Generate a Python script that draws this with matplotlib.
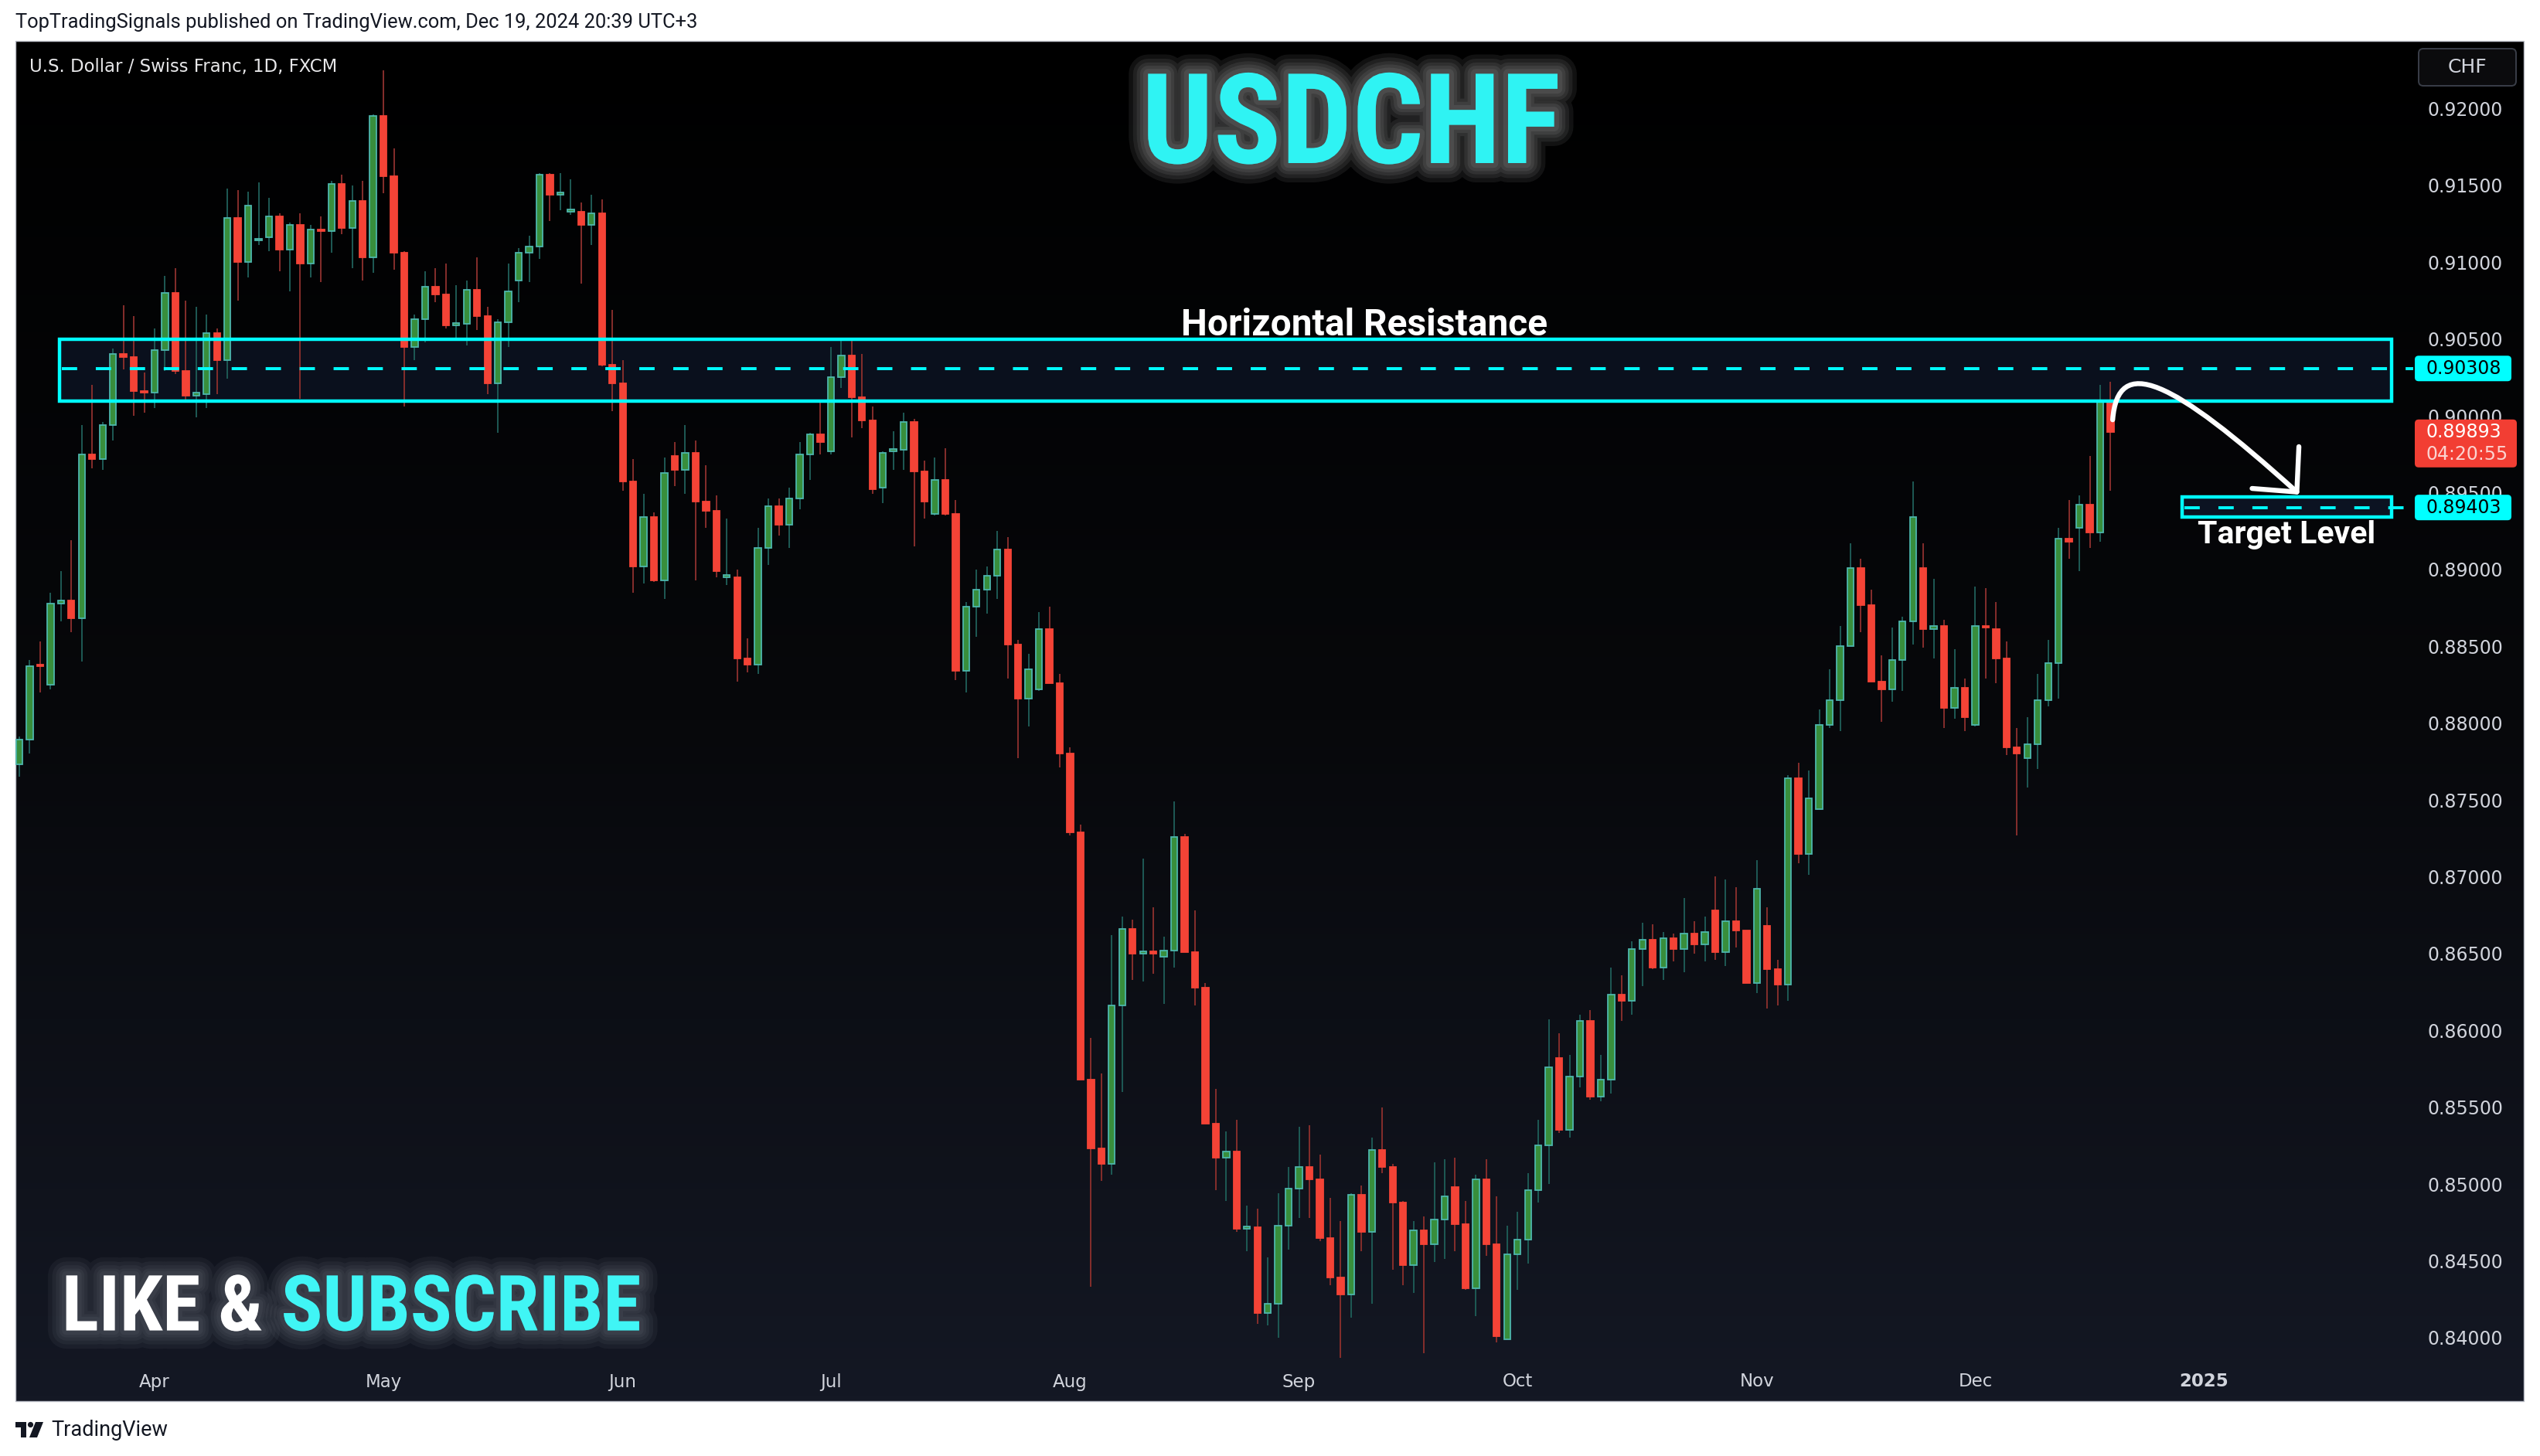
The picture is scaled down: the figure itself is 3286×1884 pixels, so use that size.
import numpy as np
import pandas as pd
import matplotlib
matplotlib.use('Agg')
import matplotlib.pyplot as plt
import matplotlib.patheffects as pe
from matplotlib import font_manager as fm
from matplotlib.colors import LinearSegmentedColormap
from matplotlib.patches import Rectangle, FancyBboxPatch, PathPatch, Polygon, Circle
from matplotlib.path import Path

W, H, DPI = 3286, 1884, 100

# ---------------------------------------------------------------------------
# data (USDCHF daily, FXCM)
# ---------------------------------------------------------------------------
dates = pd.bdate_range('2024-03-13', '2024-12-19')

opens = [0.8773, 0.8789, 0.8838, 0.8825, 0.8878, 0.8880, 0.8868, 0.8975, 0.8972, 0.8994,
         0.9040, 0.9038, 0.9016, 0.9015, 0.9043, 0.9080, 0.9029, 0.9013, 0.9014, 0.9054,
         0.9036, 0.9129, 0.9100, 0.9114, 0.9116, 0.9130, 0.9108, 0.9124, 0.9099, 0.9121,
         0.9120, 0.9151, 0.9122, 0.9140, 0.9103, 0.9195, 0.9156, 0.9106, 0.9045, 0.9063,
         0.9084, 0.9079, 0.9059, 0.9060, 0.9082, 0.9065, 0.9021, 0.9061, 0.9088, 0.9106,
         0.9110, 0.9157, 0.9144, 0.9133, 0.9133, 0.9124, 0.9132, 0.9033, 0.9021, 0.8957,
         0.8902, 0.8934, 0.8893, 0.8974, 0.8965, 0.8976, 0.8944, 0.8938, 0.8895, 0.8895,
         0.8842, 0.8838, 0.8914, 0.8941, 0.8929, 0.8946, 0.8975, 0.8988, 0.8977, 0.9025,
         0.9039, 0.9012, 0.8997, 0.8953, 0.8977, 0.8978, 0.8996, 0.8964, 0.8936, 0.8958,
         0.8936, 0.8834, 0.8876, 0.8887, 0.8896, 0.8913, 0.8851, 0.8816, 0.8822, 0.8861,
         0.8826, 0.8780, 0.8729, 0.8568, 0.8523, 0.8513, 0.8616, 0.8666, 0.8650, 0.8651,
         0.8648, 0.8652, 0.8726, 0.8651, 0.8628, 0.8539, 0.8517, 0.8521, 0.8471, 0.8472,
         0.8416, 0.8422, 0.8473, 0.8497, 0.8511, 0.8503, 0.8465, 0.8439, 0.8428, 0.8493,
         0.8469, 0.8522, 0.8511, 0.8488, 0.8447, 0.8470, 0.8461, 0.8477, 0.8498, 0.8474,
         0.8432, 0.8503, 0.8461, 0.8399, 0.8454, 0.8464, 0.8496, 0.8525, 0.8582, 0.8535,
         0.8570, 0.8606, 0.8557, 0.8568, 0.8623, 0.8619, 0.8653, 0.8659, 0.8641, 0.8660,
         0.8653, 0.8663, 0.8656, 0.8678, 0.8651, 0.8671, 0.8665, 0.8631, 0.8668, 0.8640,
         0.8630, 0.8764, 0.8715, 0.8744, 0.8799, 0.8815, 0.8850, 0.8901, 0.8877, 0.8827,
         0.8822, 0.8841, 0.8866, 0.8901, 0.8861, 0.8863, 0.8810, 0.8823, 0.8799, 0.8863,
         0.8861, 0.8842, 0.8784, 0.8777, 0.8786, 0.8815, 0.8839, 0.8920, 0.8927, 0.8942,
         0.8924, 0.9010]
highs = [0.8791, 0.8841, 0.8853, 0.8885, 0.8899, 0.8919, 0.8994, 0.9020, 0.8996, 0.9044,
         0.9072, 0.9065, 0.9028, 0.9057, 0.9091, 0.9096, 0.9075, 0.9071, 0.9066, 0.9057,
         0.9148, 0.9147, 0.9146, 0.9152, 0.9142, 0.9132, 0.9126, 0.9132, 0.9124, 0.9130,
         0.9153, 0.9157, 0.9150, 0.9153, 0.9196, 0.9225, 0.9174, 0.9107, 0.9066, 0.9094,
         0.9096, 0.9099, 0.9085, 0.9088, 0.9103, 0.9071, 0.9063, 0.9099, 0.9109, 0.9117,
         0.9158, 0.9158, 0.9158, 0.9154, 0.9139, 0.9144, 0.9141, 0.9069, 0.9036, 0.8972,
         0.8949, 0.8937, 0.8973, 0.8983, 0.8994, 0.8984, 0.8968, 0.8948, 0.8933, 0.8900,
         0.8855, 0.8927, 0.8946, 0.8946, 0.8953, 0.8983, 0.8989, 0.9010, 0.9045, 0.9050,
         0.9051, 0.9040, 0.9006, 0.8977, 0.8990, 0.9002, 0.8998, 0.8971, 0.8973, 0.8979,
         0.8945, 0.8879, 0.8900, 0.8902, 0.8925, 0.8921, 0.8854, 0.8845, 0.8872, 0.8876,
         0.8832, 0.8784, 0.8734, 0.8595, 0.8572, 0.8662, 0.8674, 0.8672, 0.8712, 0.8680,
         0.8661, 0.8749, 0.8728, 0.8678, 0.8631, 0.8562, 0.8534, 0.8542, 0.8486, 0.8484,
         0.8452, 0.8494, 0.8511, 0.8537, 0.8538, 0.8519, 0.8491, 0.8476, 0.8494, 0.8499,
         0.8530, 0.8550, 0.8513, 0.8489, 0.8476, 0.8479, 0.8514, 0.8516, 0.8517, 0.8489,
         0.8506, 0.8516, 0.8492, 0.8473, 0.8482, 0.8507, 0.8542, 0.8607, 0.8598, 0.8584,
         0.8610, 0.8613, 0.8584, 0.8641, 0.8636, 0.8658, 0.8670, 0.8669, 0.8664, 0.8663,
         0.8686, 0.8671, 0.8674, 0.8700, 0.8698, 0.8693, 0.8665, 0.8711, 0.8680, 0.8646,
         0.8766, 0.8774, 0.8769, 0.8809, 0.8835, 0.8863, 0.8917, 0.8907, 0.8887, 0.8844,
         0.8862, 0.8869, 0.8957, 0.8917, 0.8894, 0.8867, 0.8848, 0.8829, 0.8889, 0.8888,
         0.8879, 0.8853, 0.8797, 0.8804, 0.8832, 0.8854, 0.8927, 0.8945, 0.8948, 0.8974,
         0.9020, 0.9022]
lows = [0.8765, 0.8780, 0.8820, 0.8822, 0.8866, 0.8859, 0.8840, 0.8966, 0.8965, 0.8984,
        0.9030, 0.9000, 0.9002, 0.9005, 0.9029, 0.9027, 0.9009, 0.8999, 0.9005, 0.9014,
        0.9024, 0.9075, 0.9090, 0.9111, 0.9107, 0.9094, 0.9081, 0.9011, 0.9090, 0.9087,
        0.9106, 0.9118, 0.9096, 0.9088, 0.9093, 0.9145, 0.9095, 0.9006, 0.9036, 0.9048,
        0.9074, 0.9057, 0.9051, 0.9046, 0.9056, 0.9014, 0.8989, 0.9045, 0.9074, 0.9087,
        0.9102, 0.9127, 0.9134, 0.9131, 0.9086, 0.9111, 0.9032, 0.9003, 0.8951, 0.8885,
        0.8891, 0.8892, 0.8881, 0.8954, 0.8949, 0.8893, 0.8927, 0.8895, 0.8890, 0.8827,
        0.8833, 0.8832, 0.8903, 0.8922, 0.8914, 0.8939, 0.8958, 0.8975, 0.8975, 0.9018,
        0.8986, 0.8992, 0.8949, 0.8943, 0.8965, 0.8965, 0.8915, 0.8933, 0.8935, 0.8935,
        0.8828, 0.8820, 0.8856, 0.8871, 0.8881, 0.8829, 0.8777, 0.8798, 0.8821, 0.8826,
        0.8771, 0.8727, 0.8568, 0.8433, 0.8502, 0.8506, 0.8560, 0.8633, 0.8632, 0.8637,
        0.8617, 0.8641, 0.8651, 0.8616, 0.8539, 0.8496, 0.8489, 0.8469, 0.8456, 0.8409,
        0.8408, 0.8400, 0.8457, 0.8478, 0.8478, 0.8463, 0.8434, 0.8387, 0.8413, 0.8456,
        0.8422, 0.8507, 0.8444, 0.8434, 0.8429, 0.8390, 0.8449, 0.8451, 0.8456, 0.8431,
        0.8414, 0.8453, 0.8397, 0.8399, 0.8431, 0.8448, 0.8488, 0.8500, 0.8533, 0.8530,
        0.8563, 0.8555, 0.8554, 0.8559, 0.8606, 0.8610, 0.8629, 0.8640, 0.8633, 0.8645,
        0.8638, 0.8650, 0.8645, 0.8646, 0.8642, 0.8654, 0.8631, 0.8624, 0.8614, 0.8616,
        0.8619, 0.8709, 0.8701, 0.8744, 0.8797, 0.8795, 0.8850, 0.8859, 0.8827, 0.8801,
        0.8814, 0.8821, 0.8851, 0.8849, 0.8842, 0.8797, 0.8803, 0.8795, 0.8798, 0.8829,
        0.8826, 0.8779, 0.8727, 0.8758, 0.8770, 0.8811, 0.8816, 0.8907, 0.8899, 0.8914,
        0.8918, 0.8951]
closes = [0.8789, 0.8837, 0.8837, 0.8878, 0.8880, 0.8868, 0.8975, 0.8972, 0.8994, 0.9040,
          0.9038, 0.9016, 0.9015, 0.9043, 0.9080, 0.9029, 0.9013, 0.9015, 0.9054, 0.9036,
          0.9129, 0.9100, 0.9137, 0.9115, 0.9130, 0.9108, 0.9124, 0.9099, 0.9121, 0.9120,
          0.9151, 0.9122, 0.9140, 0.9103, 0.9195, 0.9156, 0.9106, 0.9045, 0.9063, 0.9084,
          0.9079, 0.9059, 0.9060, 0.9082, 0.9065, 0.9021, 0.9061, 0.9081, 0.9106, 0.9110,
          0.9157, 0.9144, 0.9145, 0.9134, 0.9124, 0.9132, 0.9033, 0.9021, 0.8957, 0.8902,
          0.8934, 0.8893, 0.8963, 0.8965, 0.8976, 0.8944, 0.8938, 0.8899, 0.8896, 0.8842,
          0.8838, 0.8914, 0.8941, 0.8929, 0.8946, 0.8975, 0.8988, 0.8983, 0.9025, 0.9039,
          0.9012, 0.8997, 0.8952, 0.8976, 0.8978, 0.8996, 0.8964, 0.8944, 0.8958, 0.8936,
          0.8834, 0.8876, 0.8887, 0.8896, 0.8913, 0.8851, 0.8816, 0.8835, 0.8861, 0.8826,
          0.8780, 0.8729, 0.8568, 0.8523, 0.8513, 0.8616, 0.8666, 0.8650, 0.8651, 0.8650,
          0.8652, 0.8726, 0.8651, 0.8628, 0.8539, 0.8517, 0.8521, 0.8471, 0.8472, 0.8416,
          0.8422, 0.8473, 0.8497, 0.8511, 0.8503, 0.8465, 0.8439, 0.8428, 0.8493, 0.8469,
          0.8522, 0.8511, 0.8488, 0.8447, 0.8470, 0.8461, 0.8477, 0.8492, 0.8474, 0.8432,
          0.8503, 0.8461, 0.8401, 0.8454, 0.8464, 0.8496, 0.8525, 0.8576, 0.8535, 0.8570,
          0.8606, 0.8557, 0.8568, 0.8623, 0.8619, 0.8653, 0.8659, 0.8641, 0.8660, 0.8653,
          0.8663, 0.8656, 0.8664, 0.8651, 0.8671, 0.8665, 0.8631, 0.8692, 0.8640, 0.8630,
          0.8764, 0.8715, 0.8751, 0.8799, 0.8815, 0.8850, 0.8901, 0.8877, 0.8827, 0.8822,
          0.8841, 0.8866, 0.8934, 0.8861, 0.8863, 0.8810, 0.8823, 0.8804, 0.8863, 0.8862,
          0.8842, 0.8784, 0.8780, 0.8786, 0.8815, 0.8839, 0.8920, 0.8918, 0.8942, 0.8924,
          0.9010, 0.89893]

price_ticks = np.arange(0.840, 0.92001, 0.005)

resist_top, resist_mid, resist_bot = 0.90498, 0.90308, 0.90094
target_top, target_mid, target_bot = 0.89470, 0.89403, 0.89340
last_price = closes[-1]
countdown = '04:20:55'

# month labels: first bar of each month, then the year mark
months = pd.Series(np.arange(len(dates)), index=dates)
month_first = months.groupby([dates.year, dates.month]).first()
month_pos = list(month_first.values[1:])
month_lbl = [dates[p].strftime('%b') for p in month_pos]
year_pos = len(dates) - 1 + len(pd.bdate_range('2024-12-20', '2025-01-01'))
month_pos.append(year_pos)
month_lbl.append('2025')

# ---------------------------------------------------------------------------
# style
# ---------------------------------------------------------------------------
avail = {f.name for f in fm.fontManager.ttflist}
cond = [n for n in ('Roboto Condensed', 'Liberation Sans Narrow', 'Open Sans Condensed') if n in avail]
BIG = cond[0] if cond else 'Roboto'

CYAN = '#00FFFF'
UP_FACE, UP_EDGE, UP_WICK = '#388E3C', '#4DB6AC', '#1E5A55'
DN_FACE, DN_EDGE, DN_WICK = '#F44336', '#F44336', '#862E2C'
AXIS_TXT = '#D1D4DC'


def px_x(px):
    return px / W


def px_y(py):
    # py measured from the top of the picture
    return 1 - py / H


fig = plt.figure(figsize=(W / DPI, H / DPI), dpi=DPI, facecolor='white')

# dark chart panel with vertical gradient
PL, PT, PR, PB = 20, 53, 3265, 1813
bg = fig.add_axes([px_x(PL), px_y(PB), (PR - PL) / W, (PB - PT) / H])
cmap = LinearSegmentedColormap.from_list('tvbg', ['#000000', '#07080b', '#141824'])
bg.imshow(np.linspace(0, 1, 256)[:, None], aspect='auto', cmap=cmap,
          extent=[0, 1, 0, 1], origin='upper')
bg.set_xlim(0, 1)
bg.set_ylim(0, 1)
bg.set_axis_off()
bg.add_patch(Rectangle((0, 0), 1, 1, transform=bg.transAxes, fill=False,
                       ec='#b8bbc4', lw=1.0, clip_on=False))

# price pane
AX_L, AX_R, AX_T, AX_B = 20, 3102, 54, 1775
ax = fig.add_axes([px_x(AX_L), px_y(AX_B), (AX_R - AX_L) / W, (AX_B - AX_T) / H])
ax.patch.set_alpha(0)
PX_PER_BAR = 13.46
PX_PER_PRICE = 19880.0
ax.set_xlim((AX_L - 25) / PX_PER_BAR, (AX_R - 25) / PX_PER_BAR)
ax.set_ylim(0.92 - (AX_B - 140.4) / PX_PER_PRICE, 0.92 + (140.4 - AX_T) / PX_PER_PRICE)
for s in ax.spines.values():
    s.set_visible(False)

ax.yaxis.tick_right()
ax.set_yticks(price_ticks)
ax.set_yticklabels([f'{v:.5f}' for v in price_ticks])
ax.tick_params(axis='y', length=0, pad=28, labelsize=17, labelcolor=AXIS_TXT)
ax.set_xticks([])
for p, lb in zip(month_pos, month_lbl):
    ax.text(p, -(1788 - AX_B) / (AX_B - AX_T), lb, transform=ax.get_xaxis_transform(),
            ha='center', va='center', fontsize=16.5, color=AXIS_TXT,
            fontweight='bold' if lb.isdigit() else 'normal', clip_on=False)

# candles
o = np.array(opens)
h = np.array(highs)
lo = np.array(lows)
c = np.array(closes)
x = np.arange(len(o))
up = c >= o
ax.vlines(x[up], lo[up], h[up], colors=UP_WICK, lw=1.4, zorder=2)
ax.vlines(x[~up], lo[~up], h[~up], colors=DN_WICK, lw=1.4, zorder=2)
body_lo = np.minimum(o, c)
body_h = np.maximum(np.abs(c - o), 0.00012)
ax.bar(x[up], body_h[up], bottom=body_lo[up], width=0.62, color=UP_FACE,
       edgecolor=UP_EDGE, linewidth=1.3, zorder=3)
ax.bar(x[~up], body_h[~up], bottom=body_lo[~up], width=0.62, color=DN_FACE,
       edgecolor=DN_EDGE, linewidth=1.3, zorder=3)

# resistance zone and target zone
res_x0, res_x1 = (77 - 25) / PX_PER_BAR, (3094 - 25) / PX_PER_BAR
tgt_x0 = (2823 - 25) / PX_PER_BAR
line_end = (3122 - 25) / PX_PER_BAR
ax.add_patch(Rectangle((res_x0, resist_bot), res_x1 - res_x0, resist_top - resist_bot,
                       fc='#0c1322', ec='none', alpha=0.85, zorder=1))
ax.add_patch(Rectangle((res_x0, resist_bot), res_x1 - res_x0, resist_top - resist_bot,
                       fill=False, ec=CYAN, lw=3.2, zorder=4))
ax.add_patch(Rectangle((tgt_x0, target_bot), res_x1 - tgt_x0, target_top - target_bot,
                       fc='#0c1322', ec=CYAN, lw=3.2, zorder=4))
for lvl, x0 in ((resist_mid, res_x0), (target_mid, tgt_x0)):
    ax.plot([x0 + 0.2, line_end], [lvl, lvl], color=CYAN, lw=2.8,
            dashes=(5.1, 6.2), zorder=4, clip_on=False)

# projected move arrow
n = len(o) - 1
curve = Path([(n + 0.2, 0.89974), (n + 0.7, 0.9040), (n + 5.7, 0.9025), (n + 17.9, 0.89504)],
             [Path.MOVETO, Path.CURVE4, Path.CURVE4, Path.CURVE4])
ax.add_patch(PathPatch(curve, fill=False, ec='white', lw=4.6, capstyle='round', zorder=6))
ax.plot([n + 18.1, n + 17.9, n + 13.6], [0.89799, 0.89504, 0.89527], color='white',
        lw=4.6, solid_capstyle='round', solid_joinstyle='round', zorder=6, clip_on=False)

# annotations
ax.text((1765 - 25) / PX_PER_BAR, 0.92 - (421 - 140.4) / PX_PER_PRICE, 'Horizontal Resistance',
        ha='center', va='center', fontsize=34.5, fontweight='bold', family=['Roboto', 'DejaVu Sans'],
        color='white', zorder=7)
ax.text((2958 - 25) / PX_PER_BAR, 0.92 - (692 - 140.4) / PX_PER_PRICE, 'Target Level',
        ha='center', va='center', fontsize=29.5, fontweight='bold', family=['Roboto', 'DejaVu Sans'],
        color='white', zorder=7, clip_on=False)

glow_w = [pe.Stroke(linewidth=lw, foreground='white', alpha=0.07) for lw in (36, 28, 21, 15, 9)]
fig.text(px_x(1748), px_y(166), 'USDCHF', ha='center', va='center', fontsize=117,
         fontweight='bold', family=[BIG, 'DejaVu Sans'], color='#2FF3F3',
         path_effects=glow_w + [pe.Normal()])

glow_g = [pe.Stroke(linewidth=lw, foreground='#9aa0aa', alpha=0.07) for lw in (34, 26, 19, 13, 8)]
t1 = fig.text(px_x(80), px_y(1694), 'LIKE & ', ha='left', va='center', fontsize=72,
              fontweight='bold', family=[BIG, 'DejaVu Sans'], color='white',
              path_effects=glow_g + [pe.Normal()])
fig.canvas.draw()
bb = t1.get_window_extent()
fig.text(bb.x1 / W, px_y(1694), 'SUBSCRIBE', ha='left', va='center', fontsize=72,
         fontweight='bold', family=[BIG, 'DejaVu Sans'], color='#40F5F5',
         path_effects=glow_g + [pe.Normal()])

fig.text(px_x(38), px_y(86), 'U.S. Dollar / Swiss Franc, 1D, FXCM', ha='left', va='center',
         fontsize=16.4, color='#E8E8EA', family=['DejaVu Sans'])

# currency button
fig.add_artist(FancyBboxPatch((3129 / DPI, (H - 111) / DPI), 126 / DPI, 48 / DPI,
                              boxstyle='round,pad=0,rounding_size=0.06',
                              transform=fig.dpi_scale_trans, fc='#0b0b0d', ec='#3a3e48', lw=1.4))
fig.text(3192 / DPI, (H - 87) / DPI, 'CHF', transform=fig.dpi_scale_trans, ha='center',
         va='center', fontsize=18, color=AXIS_TXT)


# price tags on the axis
def price_tag(price, lines, face, x1):
    yd = ax.transData.transform((0, price))[1]
    hgt = 33 + 29 * (len(lines) - 1)
    top = yd + 16.5
    fig.add_artist(FancyBboxPatch((3124 / DPI, (top - hgt) / DPI), (x1 - 3124) / DPI, hgt / DPI,
                                  boxstyle='round,pad=0,rounding_size=0.05',
                                  transform=fig.dpi_scale_trans, fc=face, ec='none', zorder=5))
    for k, (txt, col) in enumerate(lines):
        fig.text(3139 / DPI, (yd - 29 * k) / DPI, txt, transform=fig.dpi_scale_trans,
                 ha='left', va='center', fontsize=17, color=col, zorder=6)


price_tag(resist_mid, [(f'{resist_mid:.5f}', 'black')], CYAN, 3249)
price_tag(target_mid, [(f'{target_mid:.5f}', 'black')], CYAN, 3249)
price_tag(last_price, [(f'{last_price:.5f}', 'white'), (countdown, '#fbd3d0')], '#F23E33', 3256)

# header / footer
fig.text(px_x(20), px_y(29), 'TopTradingSignals published on TradingView.com, Dec 19, 2024 20:39 UTC+3',
         ha='left', va='center', fontsize=18.4, color='#131722', family=['Roboto', 'DejaVu Sans'])
fig.text(px_x(66), px_y(1850), 'TradingView', ha='left', va='center', fontsize=19.5,
         color='#131722', family=['Roboto', 'DejaVu Sans'])
logo = [Polygon([(20, 1840), (34, 1840), (34, 1860), (27, 1860), (27, 1847), (20, 1847)]),
        Circle((39.5, 1843.5), 3.6),
        Polygon([(46, 1840), (56, 1840), (48, 1860), (38, 1860)])]
for shp in logo:
    if isinstance(shp, Circle):
        cx, cy = shp.center
        art = Circle((cx / DPI, (H - cy) / DPI), shp.radius / DPI)
    else:
        art = Polygon([(a / DPI, (H - b) / DPI) for a, b in shp.get_xy()])
    art.set_transform(fig.dpi_scale_trans)
    art.set_facecolor('#131722')
    art.set_edgecolor('none')
    fig.add_artist(art)

fig.savefig('out.png', dpi=DPI, facecolor='white')
